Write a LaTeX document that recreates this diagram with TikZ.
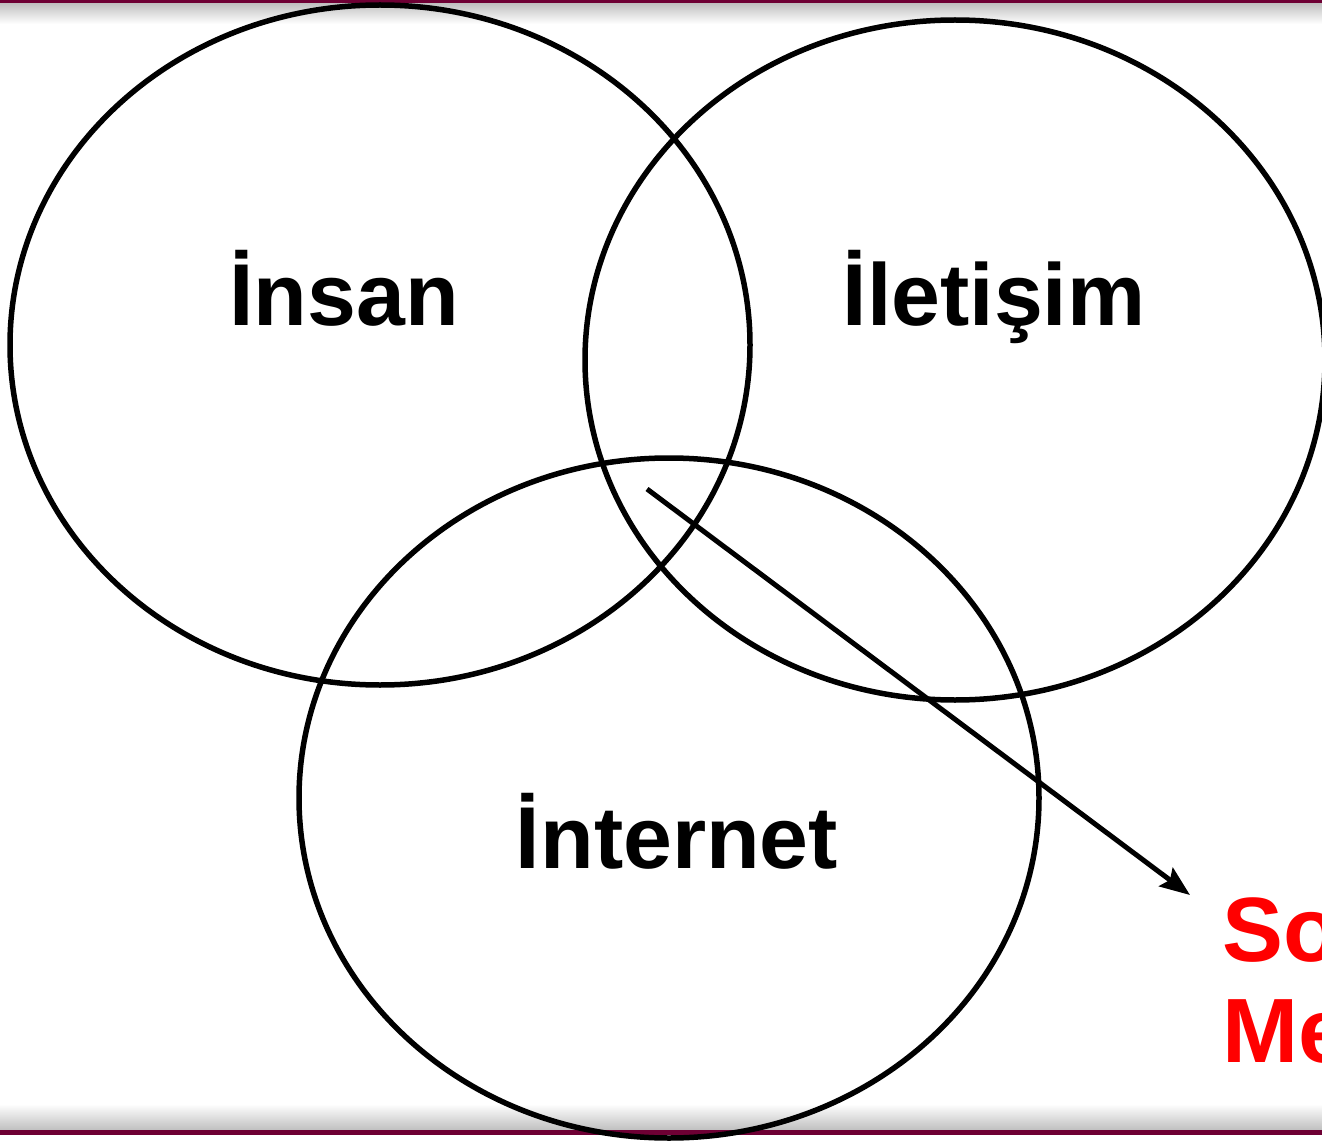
\documentclass[tikz,border=0pt]{standalone}
\usepackage{fontspec}
\setmainfont{Liberation Sans}
\usepackage{tikz}
\usetikzlibrary{positioning}
\usetikzlibrary{arrows.meta}
\definecolor{bordo}{RGB}{110,0,52}

\begin{document}
\begin{tikzpicture}[x=0.02cm,y=-0.02cm,
  kume/.style={line width=0.11cm},
  etiket/.style={font=\fontsize{50}{60}\selectfont\bfseries, inner sep=0pt, anchor=base},
  kirmizi/.style={font=\fontsize{52}{57}\selectfont\bfseries, text=red, inner sep=0pt, align=left}]
  % Parameters
  \def\W{1322}        % page width
  \def\H{1142}        % page height
  \def\rx{370}        % x radius of each set
  \def\ry{340}        % y radius of each set

  \useasboundingbox (0,0) rectangle (\W,\H);
  \clip (0,0) rectangle (\W,\H);

  % frame of the slide
  \shade[top color=black!25, bottom color=white] (0,3) rectangle (\W,24);
  \fill[bordo] (0,0) rectangle (\W,3);
  \shade[top color=white, bottom color=black!25] (0,1104) rectangle (\W,1130);
  \fill[bordo] (0,1130) rectangle (\W,1135);

  % the three sets
  \draw[kume] (380,345) ellipse [x radius=\rx, y radius=\ry];   % Insan
  \draw[kume] (955,360) ellipse [x radius=\rx, y radius=\ry];   % Iletisim
  \draw[kume] (669,798) ellipse [x radius=\rx, y radius=\ry];   % Internet

  \node[etiket] (insan) at (344,325) {İnsan};
  \node[etiket] (iletisim) at (994,325) {İletişim};
  \node[etiket] (internet) at (677,868) {İnternet};

  \node[kirmizi, anchor=base west] (sosyal) at (1222,1062) {Sosyal\\Medya};

  % arrow out of the common part
  \coordinate (kesisim) at (647,489);
  \coordinate (uc) at (1190,895);
  \draw[line width=0.1cm, -{Stealth[length=0.6cm, width=0.46cm, inset=0.1cm]}] (kesisim) -- (uc);

\end{tikzpicture}
\end{document}
